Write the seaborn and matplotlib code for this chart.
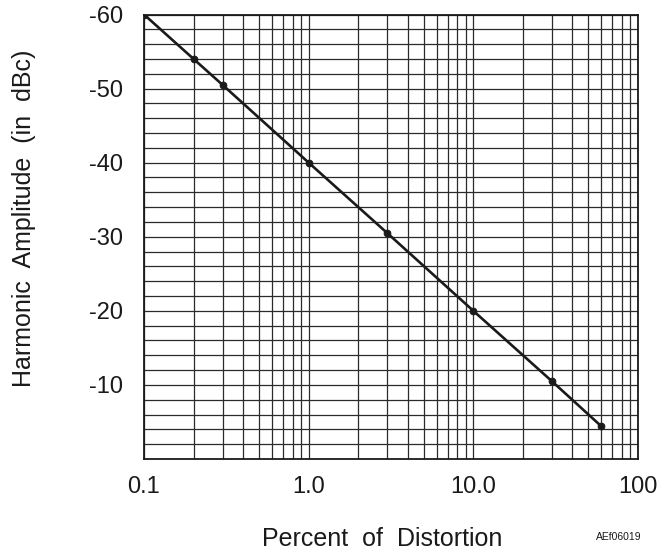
import numpy as np
import pandas as pd
import matplotlib
matplotlib.use("Agg")
import matplotlib.pyplot as plt
from matplotlib.ticker import FixedLocator, NullFormatter
import seaborn as sns

# Harmonic amplitude relative to carrier vs. percent distortion
percent = [0.1, 0.2, 0.3, 1.0, 3.0, 10.0, 30.0, 60.0]
amplitude_dbc = [-60.0, -54.0, -50.5, -40.0, -30.5, -20.0, -10.5, -4.4]

x_ticks = [0.1, 1.0, 10.0, 100.0]
x_tick_labels = ["0.1", "1.0", "10.0", "100"]
y_ticks = [-60, -50, -40, -30, -20, -10]
y_tick_labels = ["-60", "-50", "-40", "-30", "-20", "-10"]

df = pd.DataFrame({"percent": percent, "dbc": amplitude_dbc})

sns.set_style("white")
plt.rcParams["font.family"] = ["Liberation Sans", "DejaVu Sans"]

fig = plt.figure(figsize=(6.67, 5.59), dpi=100)
ax = fig.add_axes([144 / 667, 1 - 459 / 559, (638 - 144) / 667, (459 - 14.5) / 559])

sns.lineplot(data=df, x="percent", y="dbc", ax=ax, color="#1a1a1a",
             linewidth=1.9, marker="o", markersize=4.8,
             markeredgecolor="#1a1a1a", markerfacecolor="#1a1a1a", zorder=5)

ax.set_xscale("log")
ax.set_xlim(0.1, 100)
ax.set_ylim(0, -60)

# log grid: every 1..9 in each decade
minor_x = [m * 10.0 ** e for e in (-1, 0, 1) for m in range(2, 10)]
ax.xaxis.set_major_locator(FixedLocator(x_ticks))
ax.xaxis.set_minor_locator(FixedLocator(minor_x))
ax.xaxis.set_minor_formatter(NullFormatter())
ax.set_xticklabels(x_tick_labels)

ax.yaxis.set_major_locator(FixedLocator(y_ticks))
ax.yaxis.set_minor_locator(FixedLocator(list(range(-58, 0, 2))))
ax.set_yticklabels(y_tick_labels)

ax.grid(True, which="both", color="#2b2b2b", linewidth=0.9)
ax.tick_params(axis="both", which="both", length=0, labelsize=17,
               labelcolor="#1a1a1a")
ax.tick_params(axis="x", pad=12)
ax.tick_params(axis="y", pad=15)

for s in ax.spines.values():
    s.set_color("#1a1a1a")
    s.set_linewidth(1.3)

ax.set_xlabel("")
ax.set_ylabel("")

fig.text(382 / 667, 1 - 539 / 559, "Percent  of  Distortion", ha="center",
         va="center", fontsize=18, color="#1a1a1a")
fig.text(24 / 667, 1 - 218 / 559, "Harmonic  Amplitude  (in  dBc)",
         rotation=90, ha="center", va="center", fontsize=18, color="#1a1a1a")
fig.text(619 / 667, 1 - 537 / 559, "AEf06019", ha="center", va="center",
         fontsize=7.5, color="#1a1a1a")

fig.savefig("out.png", dpi=100)
